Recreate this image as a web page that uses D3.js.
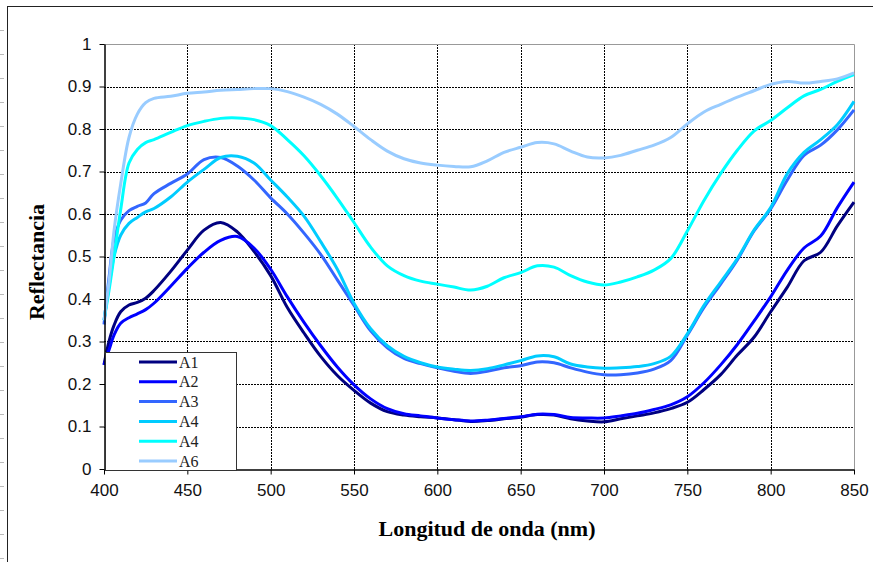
<!DOCTYPE html>
<html><head><meta charset="utf-8">
<script src="https://cdn.jsdelivr.net/npm/d3@7"></script>
<style>html,body{margin:0;padding:0;background:#fff;}svg{display:block;}</style>
</head><body>
<svg id="chart" width="873" height="562"></svg>
<script>
const wavelengths = [400,403,406,410,415,420,425,430,440,450,460,470,480,490,500,510,520,530,540,550,560,570,580,590,600,610,620,630,640,650,660,670,680,690,700,710,720,730,740,750,760,770,780,790,800,810,820,830,840,850];
const seriesNames = ["A1","A2","A3","A4","A4","A6"];
const seriesColors = ["#000080","#0000FF","#3366FF","#00CCFF","#00FFFF","#99CCFF"];
const a1 = [0.245,0.30,0.338,0.37,0.386,0.392,0.402,0.42,0.465,0.515,0.562,0.58,0.558,0.512,0.455,0.38,0.32,0.265,0.22,0.185,0.155,0.135,0.127,0.123,0.12,0.116,0.112,0.114,0.118,0.122,0.128,0.127,0.118,0.113,0.111,0.118,0.125,0.132,0.142,0.157,0.187,0.222,0.268,0.31,0.37,0.428,0.49,0.51,0.572,0.628];
const a2 = [0.245,0.28,0.315,0.343,0.356,0.365,0.375,0.39,0.43,0.472,0.51,0.538,0.547,0.52,0.47,0.405,0.345,0.29,0.24,0.198,0.165,0.142,0.13,0.125,0.12,0.116,0.113,0.115,0.119,0.123,0.129,0.128,0.121,0.12,0.12,0.125,0.131,0.14,0.151,0.17,0.203,0.245,0.293,0.348,0.405,0.468,0.52,0.548,0.615,0.675];
const a3 = [0.34,0.45,0.54,0.585,0.608,0.618,0.626,0.648,0.672,0.694,0.728,0.733,0.713,0.68,0.638,0.6,0.555,0.505,0.445,0.385,0.325,0.285,0.26,0.248,0.238,0.23,0.225,0.23,0.238,0.243,0.252,0.25,0.238,0.228,0.222,0.222,0.226,0.235,0.255,0.315,0.38,0.435,0.492,0.56,0.612,0.68,0.738,0.762,0.798,0.845];
const a4 = [0.35,0.43,0.50,0.55,0.578,0.592,0.605,0.613,0.64,0.675,0.705,0.733,0.736,0.72,0.68,0.64,0.595,0.535,0.47,0.39,0.33,0.29,0.265,0.25,0.24,0.235,0.232,0.236,0.245,0.255,0.266,0.264,0.247,0.24,0.237,0.238,0.241,0.248,0.265,0.318,0.385,0.44,0.495,0.562,0.615,0.695,0.745,0.775,0.81,0.865];
const a4b = [0.35,0.42,0.50,0.61,0.72,0.752,0.768,0.775,0.792,0.808,0.818,0.825,0.826,0.822,0.808,0.775,0.737,0.69,0.637,0.58,0.522,0.478,0.455,0.442,0.435,0.428,0.421,0.43,0.45,0.462,0.478,0.475,0.455,0.44,0.433,0.44,0.452,0.468,0.495,0.56,0.632,0.695,0.75,0.795,0.82,0.85,0.878,0.893,0.912,0.928];
const a6 = [0.35,0.44,0.56,0.67,0.78,0.835,0.862,0.872,0.877,0.884,0.887,0.891,0.893,0.895,0.895,0.888,0.875,0.858,0.835,0.806,0.775,0.748,0.73,0.72,0.715,0.712,0.711,0.725,0.745,0.757,0.768,0.765,0.748,0.734,0.732,0.738,0.75,0.762,0.78,0.812,0.84,0.858,0.875,0.89,0.905,0.912,0.908,0.912,0.918,0.932];
const seriesValues = [a1,a2,a3,a4,a4b,a6];
const xTicks = [400,450,500,550,600,650,700,750,800,850];
const yTicks = [0,0.1,0.2,0.3,0.4,0.5,0.6,0.7,0.8,0.9,1];
const yTickLabels = ["0","0.1","0.2","0.3","0.4","0.5","0.6","0.7","0.8","0.9","1"];
const xTitle = "Longitud de onda (nm)";
const yTitle = "Reflectancia";

const svg = d3.select("#chart");
const W = 873, H = 562;
const m = {left:104, top:44, right:854, bottom:469};
const x = d3.scaleLinear().domain([400,850]).range([m.left, m.right]);
const y = d3.scaleLinear().domain([0,1]).range([m.bottom, m.top]);

// outer frame
svg.append("rect").attr("x",7.5).attr("y",6.5).attr("width",W+10).attr("height",H+10)
  .attr("fill","#fff").attr("stroke","#222").attr("stroke-width",1);
// ruler ticks at left edge
d3.range(30, H, 24).forEach(t => {
  svg.append("line").attr("x1",0).attr("x2",4).attr("y1",t+0.5).attr("y2",t+0.5)
    .attr("stroke","#bbb").attr("stroke-width",1);
});

// gridlines
const g = svg.append("g");
g.selectAll(".gy").data(yTicks.filter(v => v > 0 && v < 1)).enter().append("line")
  .attr("x1",m.left).attr("x2",m.right).attr("y1",d=>Math.round(y(d))+0.5).attr("y2",d=>Math.round(y(d))+0.5)
  .attr("stroke","#000").attr("stroke-width",1).attr("stroke-dasharray","2,1");
g.selectAll(".gx").data(xTicks.filter(v => v > 400 && v < 850)).enter().append("line")
  .attr("y1",m.top).attr("y2",m.bottom).attr("x1",d=>Math.round(x(d))+0.5).attr("x2",d=>Math.round(x(d))+0.5)
  .attr("stroke","#000").attr("stroke-width",1).attr("stroke-dasharray","2,1");
// plot border top/right
svg.append("path").attr("d",`M${m.left},${m.top+0.5}H${m.right+0.5}V${m.bottom}`)
  .attr("fill","none").attr("stroke","#999").attr("stroke-width",1);

// lines
const line = d3.line().x((d,i)=>x(wavelengths[i])).y(d=>y(d)).curve(d3.curveCatmullRom.alpha(0.5));
svg.append("g").selectAll("path").data(seriesValues).enter().append("path")
  .attr("d", d=>line(d)).attr("fill","none")
  .attr("stroke",(d,i)=>seriesColors[i]).attr("stroke-width",3).attr("stroke-linejoin","round");

// axes
const yAxis = svg.append("g").attr("transform",`translate(${m.left+0.5},0)`)
  .call(d3.axisLeft(y).tickValues(yTicks).tickFormat((d,i)=>yTickLabels[i]).tickSize(5).tickPadding(8).tickSizeOuter(0));
const xAxis = svg.append("g").attr("transform",`translate(0,${m.bottom+0.5})`)
  .call(d3.axisBottom(x).tickValues(xTicks).tickFormat(d3.format("d")).tickSize(5).tickPadding(9).tickSizeOuter(0));
[yAxis,xAxis].forEach(a=>{
  a.select(".domain").attr("stroke","#000").attr("stroke-width",1.5);
  a.selectAll(".tick line").attr("stroke","#000");
  a.selectAll("text").attr("font-family","'Liberation Sans', Arial, sans-serif").attr("font-size",17).attr("fill","#111");
});

// axis titles
svg.append("text").attr("x",487).attr("y",536).attr("text-anchor","middle")
  .attr("font-family","'Liberation Serif','Times New Roman',serif").attr("font-weight","bold").attr("font-size",22)
  .text(xTitle);
svg.append("text").attr("transform","translate(44,262) rotate(-90)").attr("text-anchor","middle")
  .attr("font-family","'Liberation Serif','Times New Roman',serif").attr("font-weight","bold").attr("font-size",22)
  .text(yTitle);

// legend
const lg = svg.append("g");
lg.append("rect").attr("x",105.5).attr("y",352.5).attr("width",131).attr("height",118)
  .attr("fill","#fff").attr("stroke","#333").attr("stroke-width",1);
seriesNames.forEach((n,i)=>{
  const yy = 362 + i*19.8;
  lg.append("line").attr("x1",139).attr("x2",177).attr("y1",yy).attr("y2",yy)
    .attr("stroke",seriesColors[i]).attr("stroke-width",3);
  lg.append("text").attr("x",179).attr("y",yy+5.5)
    .attr("font-family","'Liberation Serif','Times New Roman',serif").attr("font-size",16).attr("fill","#222").text(n);
});
</script>
</body></html>
